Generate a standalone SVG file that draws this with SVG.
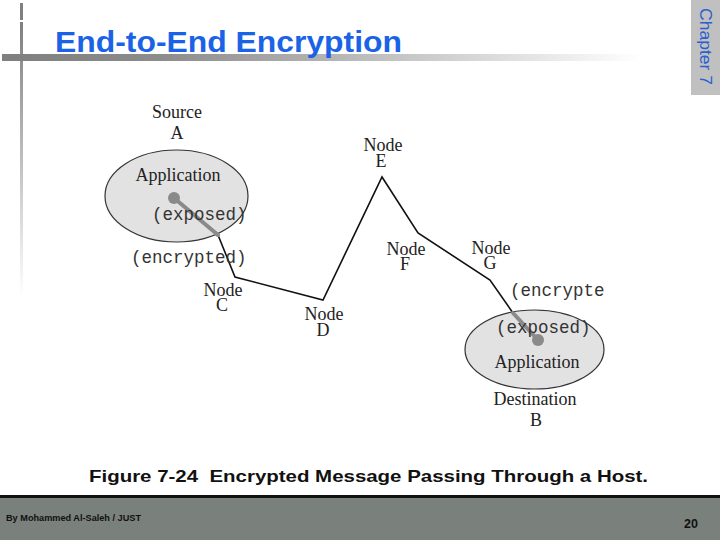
<svg xmlns="http://www.w3.org/2000/svg" width="720" height="540" viewBox="0 0 720 540">
<defs>
<linearGradient id="hbar" x1="0" y1="0" x2="1" y2="0">
<stop offset="0" stop-color="#7f7f7f"/>
<stop offset="0.25" stop-color="#8c8c8c"/>
<stop offset="1" stop-color="#ffffff"/>
</linearGradient>
<linearGradient id="vbar" x1="0" y1="0" x2="0" y2="1">
<stop offset="0" stop-color="#7f7f7f"/>
<stop offset="1" stop-color="#ffffff"/>
</linearGradient>
<style>
.serif{font-family:"Liberation Serif","Times New Roman",serif;font-size:18px;fill:#222;text-anchor:middle}
.mono{font-family:"Liberation Mono","Courier New",monospace;font-size:17.5px;fill:#333}
.ell{fill:#e2e2e2;stroke:#333;stroke-width:1.2}
.wire{fill:none;stroke:#111;stroke-width:1.6;stroke-linejoin:miter}
.exp{fill:none;stroke:#8a8a8a;stroke-width:4;stroke-linecap:round}
.dot{fill:#8a8a8a}
</style>
</defs>
<rect width="720" height="540" fill="#ffffff"/>
<!-- slide decoration -->
<rect x="20" y="3" width="3" height="17" fill="#808080"/>
<rect x="20" y="22" width="3" height="275" fill="url(#vbar)"/>
<rect x="2" y="54" width="640" height="7" fill="url(#hbar)"/>
<text x="55" y="52" font-family="Liberation Sans,Arial,sans-serif" font-weight="bold" font-size="29" fill="#1a62e6" textLength="347" lengthAdjust="spacingAndGlyphs">End-to-End Encryption</text>
<rect x="691" y="0" width="29" height="95" fill="#c0c0c0"/>
<text transform="translate(700,8) rotate(90)" font-family="Liberation Sans,Arial,sans-serif" font-size="17" fill="#2a5fd0" textLength="77" lengthAdjust="spacingAndGlyphs">Chapter 7</text>
<!-- connectors -->
<g id="connectors">
<polyline class="wire" points="218,235 235,277 323,300 382,177 418,233 490,280 513,313"/>
<line class="exp" x1="174" y1="198" x2="218" y2="235"/>
<line class="exp" x1="513" y1="313" x2="538" y2="340"/>
</g>
<!-- nodes -->
<g id="source-A">
<ellipse class="ell" cx="176.5" cy="196" rx="71.5" ry="46"/>
<line class="exp" x1="174" y1="198" x2="218" y2="235"/>
<circle class="dot" cx="174" cy="198" r="6"/>
<text class="serif" x="177" y="118">Source<tspan x="177" y="139">A</tspan></text>
<text class="serif" x="178" y="181">Application</text>
<text class="mono" x="152" y="220">(exposed)</text>
<text class="mono" x="131" y="263">(encrypted)</text>
</g>
<g id="node-C"><text class="serif" x="223" y="296">Node<tspan x="222" y="311">C</tspan></text></g>
<g id="node-D"><text class="serif" x="324" y="320">Node<tspan x="323" y="336">D</tspan></text></g>
<g id="node-E"><text class="serif" x="383" y="151">Node<tspan x="381" y="167">E</tspan></text></g>
<g id="node-F"><text class="serif" x="406" y="255">Node<tspan x="405" y="270">F</tspan></text></g>
<g id="node-G"><text class="serif" x="491" y="254">Node<tspan x="490" y="269">G</tspan></text></g>
<g id="dest-B">
<ellipse class="ell" cx="534.5" cy="349.5" rx="69.5" ry="39.5"/>
<line class="exp" x1="513" y1="313" x2="538" y2="340"/>
<circle class="dot" cx="538" cy="340" r="6"/>
<text class="mono" x="510" y="296">(encrypte</text>
<text class="mono" x="496" y="333">(exposed)</text>
<text class="serif" x="537" y="368">Application</text>
<text class="serif" x="535" y="405">Destination<tspan x="536" y="426">B</tspan></text>
</g>
<!-- caption and footer -->
<text x="89" y="482" font-family="Liberation Sans,Arial,sans-serif" font-weight="bold" font-size="17" fill="#111" textLength="559" lengthAdjust="spacingAndGlyphs" xml:space="preserve">Figure 7-24  Encrypted Message Passing Through a Host.</text>
<rect x="0" y="495" width="720" height="3" fill="#111"/>
<rect x="0" y="498" width="720" height="42" fill="#7a807b"/>
<text x="6" y="521" font-family="Liberation Sans,Arial,sans-serif" font-weight="bold" font-size="8.5" fill="#111" textLength="135" lengthAdjust="spacingAndGlyphs">By Mohammed Al-Saleh / JUST</text>
<text x="684" y="528" font-family="Liberation Sans,Arial,sans-serif" font-weight="bold" font-size="12.5" fill="#111">20</text>
</svg>
